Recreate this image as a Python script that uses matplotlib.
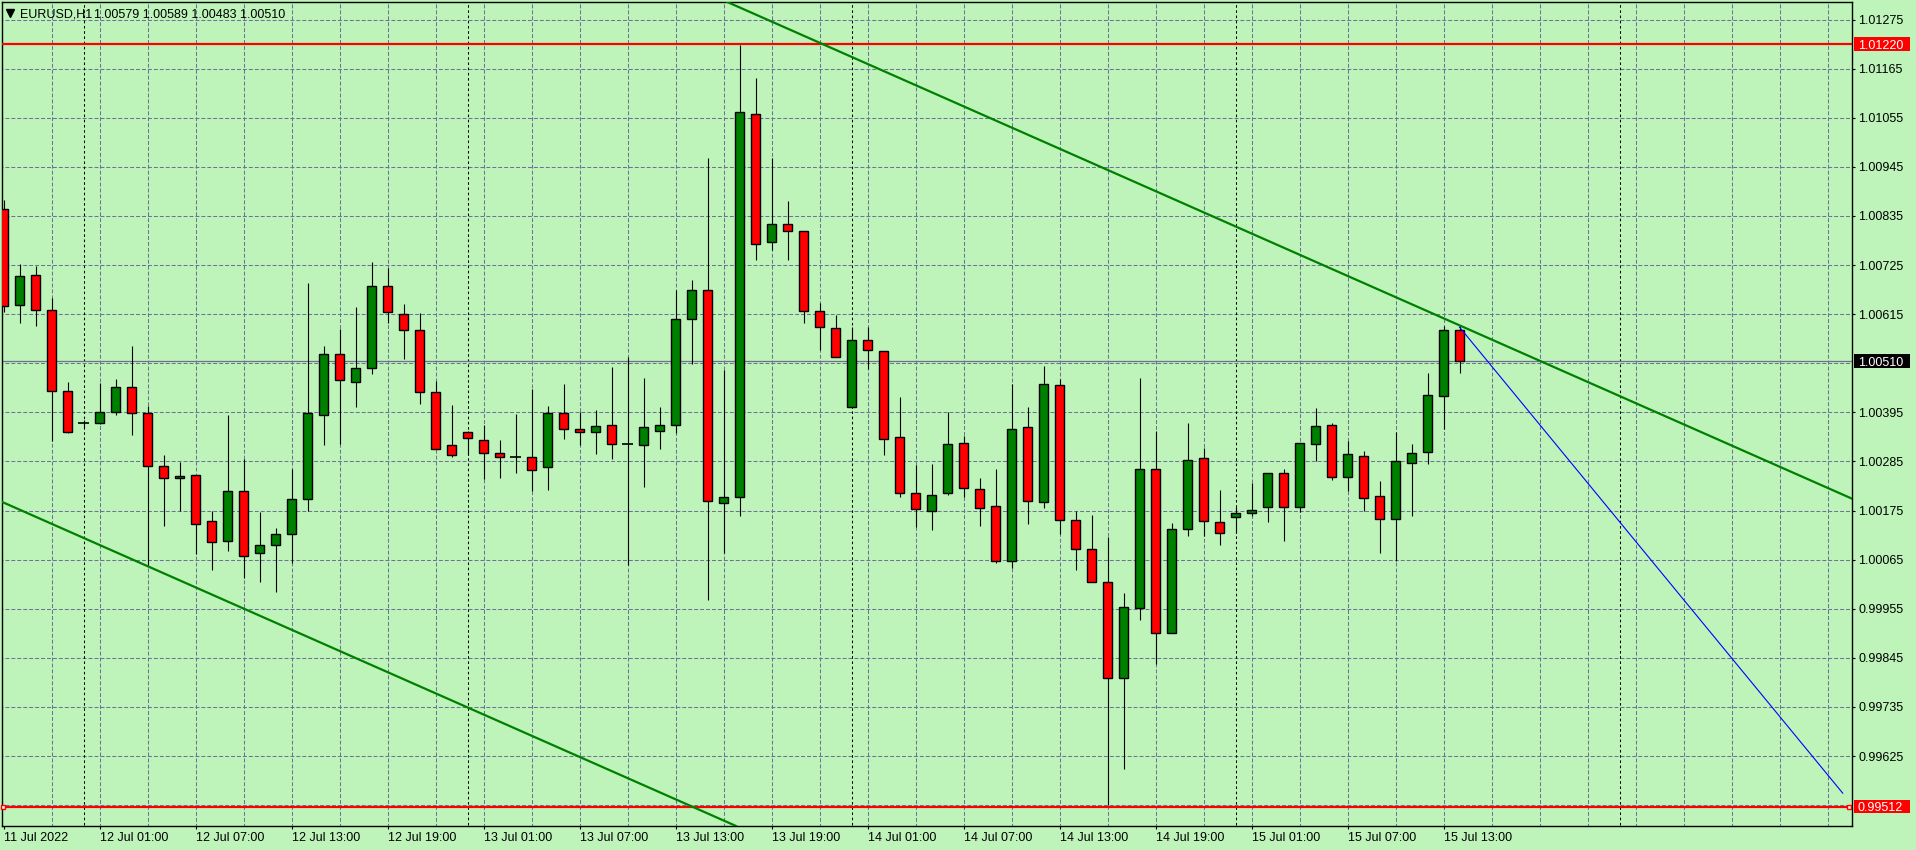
import numpy as np
import matplotlib
matplotlib.use("Agg")
import matplotlib.pyplot as plt
from matplotlib.patches import Rectangle
from matplotlib.lines import Line2D
from matplotlib.transforms import IdentityTransform

plt.rcParams['font.family'] = ['Liberation Sans', 'DejaVu Sans']

# EURUSD H1 bars, 11 Jul 2022 19:00 .. 15 Jul 2022 14:00
opens = [1.00850, 1.00635, 1.00702, 1.00624, 1.00444, 1.00371, 1.00371, 1.00395, 1.00453, 1.00393,
         1.00276, 1.00247, 1.00254, 1.00151, 1.00108, 1.00220, 1.00079, 1.00097, 1.00122, 1.00202,
         1.00390, 1.00525, 1.00464, 1.00494, 1.00679, 1.00615, 1.00579, 1.00440, 1.00321, 1.00352,
         1.00334, 1.00305, 1.00295, 1.00296, 1.00272, 1.00393, 1.00357, 1.00350, 1.00366, 1.00325,
         1.00322, 1.00353, 1.00366, 1.00605, 1.00670, 1.00193, 1.00205, 1.01064, 1.00776, 1.00818,
         1.00802, 1.00623, 1.00585, 1.00408, 1.00558, 1.00532, 1.00339, 1.00214, 1.00174, 1.00214,
         1.00326, 1.00223, 1.00185, 1.00062, 1.00362, 1.00194, 1.00456, 1.00154, 1.00089, 1.00015,
         0.99800, 0.99957, 1.00268, 0.99901, 1.00134, 1.00293, 1.00149, 1.00160, 1.00169, 1.00183,
         1.00259, 1.00183, 1.00324, 1.00366, 1.00250, 1.00297, 1.00207, 1.00156, 1.00281, 1.00306,
         1.00431, 1.00579]
highs = [1.00871, 1.00727, 1.00724, 1.00652, 1.00462, 1.00379, 1.00461, 1.00469, 1.00544, 1.00409,
         1.00299, 1.00284, 1.00254, 1.00173, 1.00389, 1.00290, 1.00172, 1.00136, 1.00268, 1.00685,
         1.00544, 1.00582, 1.00630, 1.00731, 1.00719, 1.00638, 1.00617, 1.00466, 1.00411, 1.00354,
         1.00367, 1.00334, 1.00391, 1.00447, 1.00409, 1.00458, 1.00396, 1.00400, 1.00496, 1.00520,
         1.00472, 1.00407, 1.00669, 1.00692, 1.00964, 1.00490, 1.01218, 1.01144, 1.00966, 1.00868,
         1.00802, 1.00641, 1.00613, 1.00587, 1.00587, 1.00532, 1.00429, 1.00277, 1.00280, 1.00396,
         1.00341, 1.00249, 1.00269, 1.00459, 1.00408, 1.00499, 1.00470, 1.00175, 1.00166, 1.00115,
         0.99991, 1.00472, 1.00354, 1.00147, 1.00372, 1.00316, 1.00222, 1.00184, 1.00236, 1.00259,
         1.00269, 1.00326, 1.00405, 1.00371, 1.00332, 1.00309, 1.00242, 1.00351, 1.00325, 1.00484,
         1.00589, 1.00589]
lows = [1.00621, 1.00596, 1.00589, 1.00332, 1.00349, 1.00362, 1.00370, 1.00390, 1.00345, 1.00053,
        1.00141, 1.00173, 1.00078, 1.00043, 1.00085, 1.00024, 1.00014, 0.99993, 1.00057, 1.00175,
        1.00322, 1.00325, 1.00408, 1.00482, 1.00596, 1.00515, 1.00414, 1.00313, 1.00296, 1.00300,
        1.00245, 1.00249, 1.00260, 1.00219, 1.00222, 1.00335, 1.00322, 1.00302, 1.00291, 1.00054,
        1.00227, 1.00314, 1.00348, 1.00504, 0.99975, 1.00080, 1.00162, 1.00737, 1.00758, 1.00737,
        1.00595, 1.00535, 1.00519, 1.00407, 1.00493, 1.00299, 1.00205, 1.00138, 1.00131, 1.00209,
        1.00205, 1.00140, 1.00058, 1.00046, 1.00144, 1.00180, 1.00123, 1.00041, 1.00014, 0.99516,
        0.99595, 0.99931, 0.99832, 0.99900, 1.00117, 1.00117, 1.00097, 1.00125, 1.00162, 1.00149,
        1.00106, 1.00171, 1.00287, 1.00243, 1.00220, 1.00175, 1.00079, 1.00061, 1.00164, 1.00279,
        1.00358, 1.00483]
closes = [1.00633, 1.00700, 1.00624, 1.00442, 1.00350, 1.00371, 1.00395, 1.00453, 1.00393, 1.00276,
          1.00247, 1.00252, 1.00146, 1.00104, 1.00218, 1.00074, 1.00097, 1.00122, 1.00202, 1.00393,
          1.00525, 1.00467, 1.00494, 1.00679, 1.00619, 1.00579, 1.00440, 1.00314, 1.00299, 1.00337,
          1.00305, 1.00296, 1.00295, 1.00267, 1.00393, 1.00357, 1.00350, 1.00364, 1.00325, 1.00325,
          1.00362, 1.00366, 1.00605, 1.00670, 1.00196, 1.00205, 1.01067, 1.00773, 1.00816, 1.00802,
          1.00623, 1.00587, 1.00520, 1.00558, 1.00534, 1.00335, 1.00214, 1.00179, 1.00211, 1.00324,
          1.00225, 1.00181, 1.00062, 1.00358, 1.00196, 1.00458, 1.00154, 1.00089, 1.00015, 0.99800,
          0.99959, 1.00268, 0.99901, 1.00134, 1.00288, 1.00152, 1.00125, 1.00169, 1.00176, 1.00259,
          1.00183, 1.00326, 1.00364, 1.00250, 1.00302, 1.00203, 1.00156, 1.00286, 1.00304, 1.00434,
          1.00579, 1.00510]

time_labels = ["11 Jul 2022", "12 Jul 01:00", "12 Jul 07:00", "12 Jul 13:00", "12 Jul 19:00",
               "13 Jul 01:00", "13 Jul 07:00", "13 Jul 13:00", "13 Jul 19:00", "14 Jul 01:00",
               "14 Jul 07:00", "14 Jul 13:00", "14 Jul 19:00", "15 Jul 01:00", "15 Jul 07:00",
               "15 Jul 13:00"]
label_bars = [0, 6, 12, 18, 24, 30, 36, 42, 48, 54, 60, 66, 72, 78, 84, 90]
day_starts = [5, 29, 53, 77, 101]

price_grid = [1.01275, 1.01165, 1.01055, 1.00945, 1.00835, 1.00725, 1.00615, 1.00505,
              1.00395, 1.00285, 1.00175, 1.00065, 0.99955, 0.99845, 0.99735, 0.99625, 0.99515]
price_labels = [1.01275, 1.01165, 1.01055, 1.00945, 1.00835, 1.00725, 1.00615,
                1.00395, 1.00285, 1.00175, 1.00065, 0.99955, 0.99845, 0.99735, 0.99625]

resistance = 1.01220
support = 0.99512
last_price = 1.00510
upper_line = [(51.2, 1.01220), (91.0, 1.00590)]
lower_line = [(0.0, 1.00193), (42.65, 0.99518)]
blue_line = [(91.0, 1.00586), (114.95, 0.99542)]

bg = '#BEF4BA'
grid_c = '#6E7396'
dash = (0, (3.8, 1.9))
W, H = 1916, 850
left_px, right_px, top_px, bot_px = 2, 1852, 2, 826

fig = plt.figure(figsize=(W / 100, H / 100), dpi=100, facecolor=bg)
ax = fig.add_axes([left_px / W, (H - bot_px) / H, (right_px - left_px) / W, (bot_px - top_px) / H])
ax.set_facecolor(bg)
ax.set_xlim(-0.094, 115.53)
ax.set_ylim(0.994684, 1.013144)

# grid
ax.hlines(price_grid, -1, 120, colors=grid_c, lw=0.75, linestyles=dash, zorder=1)
ax.vlines(np.arange(3, 116, 3), 0.99, 1.02, colors=grid_c, lw=0.75, linestyles=dash, zorder=1)
ax.vlines(day_starts, 0.99, 1.02, colors='black', lw=0.75, linestyles=(0, (2.5, 2.5)), zorder=1)

# candles
o = np.array(opens); h = np.array(highs); l = np.array(lows); c = np.array(closes)
x = np.arange(len(o))
ax.vlines(x, l, h, colors='black', lw=0.8, zorder=3)
body = np.abs(c - o)
doji = body < 0.00002
colors = np.where(c >= o, '#008000', '#FF0000')
ax.bar(x[~doji], body[~doji], bottom=np.minimum(o, c)[~doji], width=0.58,
       color=colors[~doji], edgecolor='black', linewidth=1.0, zorder=4)
ax.hlines(o[doji], x[doji] - 0.32, x[doji] + 0.32, colors='black', lw=1.2, zorder=4)

# current price line and levels
ax.axhline(last_price, color='#70708A', lw=0.9, zorder=2)
ax.axhline(resistance, color='#FF0000', lw=1.6, zorder=5)
ax.axhline(support, color='#FF0000', lw=1.6, zorder=5)
ax.plot([-0.03, 115.35], [support, support], ls='none', marker='s', ms=3.5, mfc='white',
        mec='#FF0000', mew=1.0, clip_on=False, zorder=6)

# channel and projection
ax.axline(upper_line[0], upper_line[1], color='#008000', lw=1.6, zorder=5)
ax.axline(lower_line[0], lower_line[1], color='#008000', lw=1.6, zorder=5)
ax.plot([p[0] for p in blue_line], [p[1] for p in blue_line], color='#0000FF', lw=0.8, zorder=5)

for s in ax.spines.values():
    s.set_color('black')
    s.set_linewidth(1.0)

# axes ticks
ax.yaxis.tick_right()
ax.set_yticks(price_labels)
ax.set_yticklabels(['%.5f' % p for p in price_labels])
ax.tick_params(axis='y', length=2.4, width=0.8, pad=2, labelsize=9, colors='black')
ax.set_xticks(label_bars)
ax.set_xticklabels(time_labels, ha='left')
ax.tick_params(axis='x', length=2.4, width=0.8, pad=2, labelsize=9, colors='black')

# price boxes on the right scale
ident = IdentityTransform()
for price, fc, tc in [(resistance, '#FF0000', 'white'), (last_price, 'black', 'white'),
                      (support, '#FF0000', 'white')]:
    yp = ax.transData.transform((0, price))[1]
    fig.add_artist(Rectangle((1854, yp - 6.5), 56, 13.5, transform=ident, fc=fc, ec='none'))
    fig.text(1858, yp, '%.5f' % price, transform=ident, color=tc, fontsize=9, va='center_baseline')

# header
fig.add_artist(Line2D([9.5], [H - 13], marker='v', ms=5.5, color='black', transform=ident))
fig.text(20, H - 13, 'EURUSD,H1', transform=ident, fontsize=9, va='center_baseline')
fig.text(94, H - 13, '1.00579 1.00589 1.00483 1.00510', transform=ident, fontsize=9,
         va='center_baseline')

fig.savefig('out.png', dpi=100, facecolor=bg)
